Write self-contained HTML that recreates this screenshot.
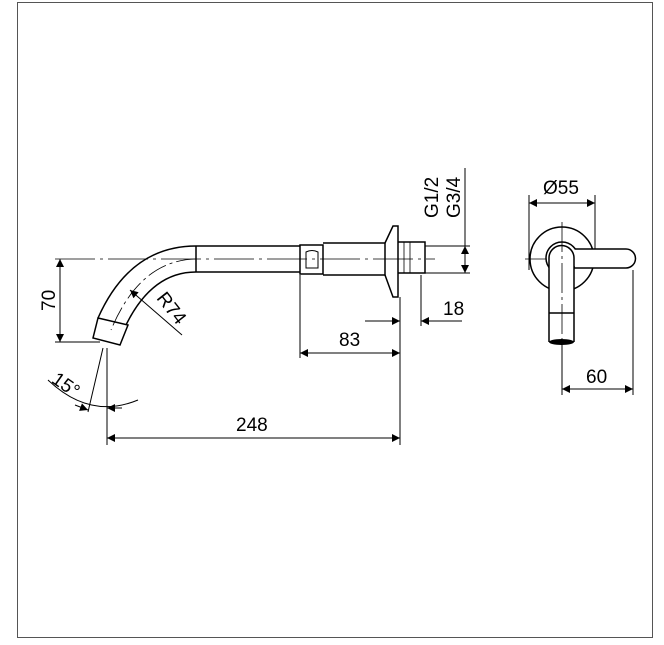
<!DOCTYPE html><html><head><style>body{margin:0;background:#fff}svg{display:block}text{font-family:"Liberation Sans",Arial,sans-serif;font-size:19px;fill:#000}</style></head><body>
<svg width="664" height="645" viewBox="0 0 664 645" xmlns="http://www.w3.org/2000/svg">
<defs><marker id="a" viewBox="0 0 10 10" refX="10" refY="5" markerWidth="13" markerHeight="8" orient="auto-start-reverse" markerUnits="userSpaceOnUse"><path d="M0,0L10,5L0,10z" fill="#000"/></marker></defs>
<rect x="17.5" y="2.5" width="635" height="635" fill="none" stroke="#555" stroke-width="1"/>
<g fill="none" stroke="#000" stroke-width="1.5">
<path d="M196,246 Q130,246 98,318"/><path d="M196,272 Q152,272 126,325"/>
<path d="M196,246H300M196,272H300M196,246V272"/>
<path d="M98,318L128,325L120,345L93,338Z"/>
<path d="M300,245V274H323V245Z"/><path d="M323,243H385V275H323"/>
<path d="M306,252Q312,249 318,252V268H306Z" stroke-width="1"/>
<path d="M385,243L393,226H398V297H393L385,275" />
<path d="M398,242H425V273H398"/><path d="M404,242V273M410,242V273" stroke-width="0.8"/>
<path d="M55,259H435" stroke-width="0.8" stroke-dasharray="40,5,3,5"/>
<path d="M196,259 Q140,260 111,330" stroke-width="0.8" stroke-dasharray="20,4,3,4"/>
<g stroke-width="1">
<path d="M60,259V342" marker-start="url(#a)" marker-end="url(#a)"/><path d="M55,342H100"/>
<path d="M182,335L130,290" marker-end="url(#a)"/>
<path d="M107,348V445M103,348L88,412"/>
<path d="M48,380Q90,420 138,400"/>
<path d="M75,405L88,410" marker-end="url(#a)"/><path d="M122,408L107,408" marker-end="url(#a)"/>
<path d="M107,438H400" marker-start="url(#a)" marker-end="url(#a)"/>
<path d="M300,275V358M400,297V445"/>
<path d="M300,353H400" marker-start="url(#a)" marker-end="url(#a)"/>
<path d="M421,275V326"/><path d="M365,321H400" marker-end="url(#a)"/><path d="M462,321H421" marker-end="url(#a)"/>
<path d="M465,168V273M425,246H470M425,273H470"/><path d="M465,259V246" marker-end="url(#a)"/><path d="M465,259V273" marker-end="url(#a)"/>
<path d="M529,195V270M595,195V262"/><path d="M529,203H595" marker-start="url(#a)" marker-end="url(#a)"/>
<path d="M525,259H598" stroke-width="0.8" stroke-dasharray="30,4,3,4"/>
<path d="M562,389H633" marker-start="url(#a)" marker-end="url(#a)"/><path d="M633,270V395"/><path d="M562,342V395"/>
</g>
<circle cx="562" cy="259" r="32"/>
<circle cx="562" cy="258" r="16" fill="#fff"/>
<path d="M575,249H626A9.5,9.5 0 0 1 626,268H575" fill="#fff"/>
<path d="M549,342V258A12.5,12.5 0 0 1 574,258V342" fill="#fff"/>
<path d="M549,313H574"/>
</g>
<ellipse cx="561.5" cy="342" rx="12.5" ry="3" fill="#000"/>
<path d="M562,222V342" stroke="#000" stroke-width="0.8" stroke-dasharray="30,4,3,4"/>
<text x="37" y="307" transform="rotate(-90 48 300)">70</text>
<text x="156" y="312" transform="rotate(52 170 305)">R74</text>
<text x="52" y="391" transform="rotate(35 66 384)">15°</text>
<text x="236" y="431">248</text>
<text x="339" y="346">83</text>
<text x="443" y="315">18</text>
<text x="438" y="218" transform="rotate(-90 438 218)">G1/2</text>
<text x="460" y="218" transform="rotate(-90 460 218)">G3/4</text>
<text x="543" y="194">Ø55</text>
<text x="586" y="383">60</text>
</svg></body></html>
